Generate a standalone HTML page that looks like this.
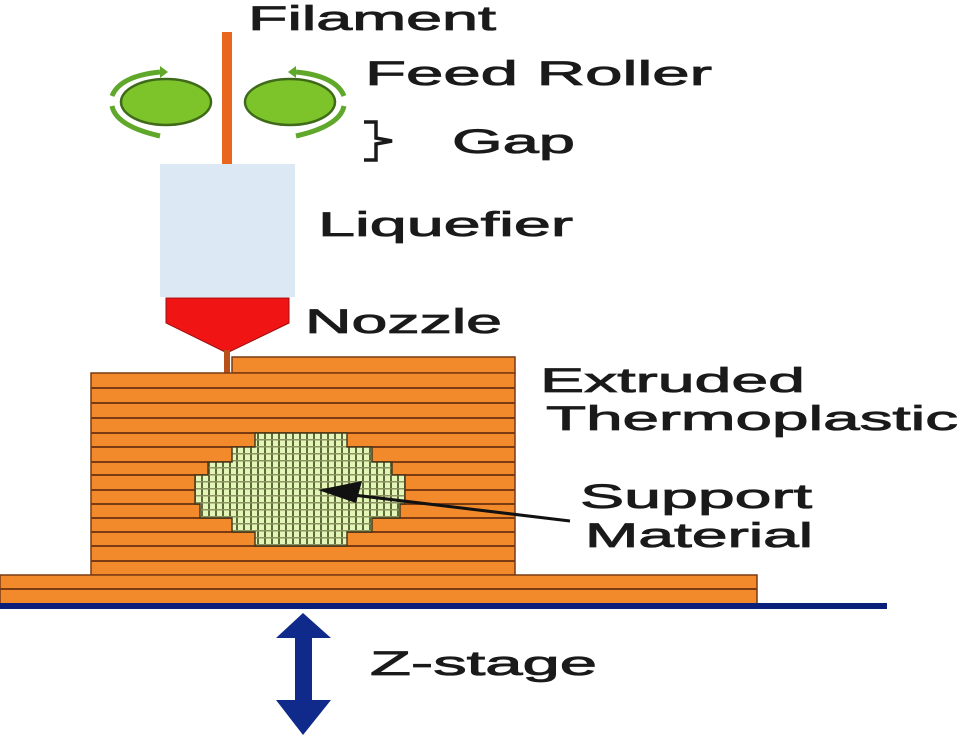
<!DOCTYPE html>
<html><head><meta charset="utf-8"><style>
html,body{margin:0;padding:0;background:#fff;}
svg{display:block;}
text{font-family:"Liberation Sans",sans-serif;fill:#1a1a1a;font-size:34px;stroke:#1a1a1a;stroke-width:0.8px;}
</style></head><body>
<svg width="971" height="740" viewBox="0 0 971 740" xmlns="http://www.w3.org/2000/svg">
<defs>
<pattern id="grid" width="7" height="7" patternUnits="userSpaceOnUse">
<rect width="7" height="7" fill="#e4f5b8"/>
<rect x="5" width="2" height="7" fill="#5f6a3a"/>
<rect y="5" width="7" height="1.5" fill="#8a9460"/>
</pattern>
</defs>
<rect x="222" y="32" width="10" height="132" fill="#e8661e"/>
<ellipse cx="166" cy="102" rx="45" ry="23" fill="#7cc42a" stroke="#3f6a1a" stroke-width="2.5"/>
<ellipse cx="290" cy="102" rx="45" ry="23" fill="#7cc42a" stroke="#3f6a1a" stroke-width="2.5"/>
<path d="M160 72 Q120 76 112 96" fill="none" stroke="#5fa82a" stroke-width="5"/>
<path d="M112 106 Q116 126 160 136" fill="none" stroke="#5fa82a" stroke-width="5"/>
<polygon points="160,66 168,72 160,78" fill="#5fa82a"/>
<path d="M296 72 Q336 76 344 96" fill="none" stroke="#5fa82a" stroke-width="5"/>
<path d="M344 106 Q340 126 296 136" fill="none" stroke="#5fa82a" stroke-width="5"/>
<polygon points="296,66 288,72 296,78" fill="#5fa82a"/>
<rect x="160" y="164" width="135" height="133" fill="#dce9f5"/>
<polygon points="166,298 289,298 289,323 227,353 166,323" fill="#f01414" stroke="#9a1010" stroke-width="1"/>
<rect x="224" y="350" width="6" height="24" fill="#b8501a"/>
<rect x="232" y="357" width="283" height="16" fill="#f28a2c" stroke="#7a3a12" stroke-width="1.5"/>
<rect x="91" y="373" width="424" height="202" fill="#f28a2c" stroke="#7a3a12" stroke-width="1.5"/>
<g stroke="#7a3a12" stroke-width="2">
<line x1="91" y1="388" x2="515" y2="388"/>
<line x1="91" y1="403" x2="515" y2="403"/>
<line x1="91" y1="418" x2="515" y2="418"/>
<line x1="91" y1="433" x2="515" y2="433"/>
<line x1="91" y1="447" x2="515" y2="447"/>
<line x1="91" y1="462" x2="515" y2="462"/>
<line x1="91" y1="475" x2="515" y2="475"/>
<line x1="91" y1="490" x2="515" y2="490"/>
<line x1="91" y1="504" x2="515" y2="504"/>
<line x1="91" y1="518" x2="515" y2="518"/>
<line x1="91" y1="532" x2="515" y2="532"/>
<line x1="91" y1="546" x2="515" y2="546"/>
<line x1="91" y1="561" x2="515" y2="561"/>
</g>
<polygon points="255,433 347,433 347,447 372,447 372,462 392,462 392,475 405,475 405,504 400,504 400,518 372,518 372,532 347,532 347,546 255,546 255,532 232,532 232,518 200,518 200,504 195,504 195,475 208,475 208,462 232,462 232,447 255,447" fill="url(#grid)" stroke="#4a3a1a" stroke-width="1.5"/>
<rect x="0" y="575" width="757" height="29" fill="#f28a2c" stroke="#7a3a12" stroke-width="1.5"/>
<line x1="0" y1="589" x2="757" y2="589" stroke="#7a3a12" stroke-width="2"/>
<rect x="0" y="603" width="887" height="6" fill="#0a1f7a"/>
<polygon points="303,613 331,638 312,638 312,700 331,700 303,735 276,700 295,700 295,638 276,638" fill="#0f2a8a"/>
<line x1="570" y1="521" x2="345" y2="494" stroke="#111" stroke-width="3"/>
<polygon points="318,490 362,481 356,503" fill="#111"/>
<path d="M364 122 L376 122 L376 138 L392 141 L376 144 L376 160 L364 160" fill="none" stroke="#1a1a1a" stroke-width="3.5"/>
<text x="248" y="30" textLength="248" lengthAdjust="spacingAndGlyphs">Filament</text>
<text x="365" y="85" textLength="347" lengthAdjust="spacingAndGlyphs">Feed Roller</text>
<text x="452" y="153" textLength="123" lengthAdjust="spacingAndGlyphs">Gap</text>
<text x="318" y="236" textLength="255" lengthAdjust="spacingAndGlyphs">Liquefier</text>
<text x="305" y="333" textLength="197" lengthAdjust="spacingAndGlyphs">Nozzle</text>
<text x="540" y="392" textLength="265" lengthAdjust="spacingAndGlyphs">Extruded</text>
<text x="546" y="430" textLength="412" lengthAdjust="spacingAndGlyphs">Thermoplastic</text>
<text x="580" y="508" textLength="232" lengthAdjust="spacingAndGlyphs">Support</text>
<text x="585" y="547" textLength="228" lengthAdjust="spacingAndGlyphs">Material</text>
<text x="370" y="675" textLength="227" lengthAdjust="spacingAndGlyphs">Z-stage</text>
</svg>
</body></html>
